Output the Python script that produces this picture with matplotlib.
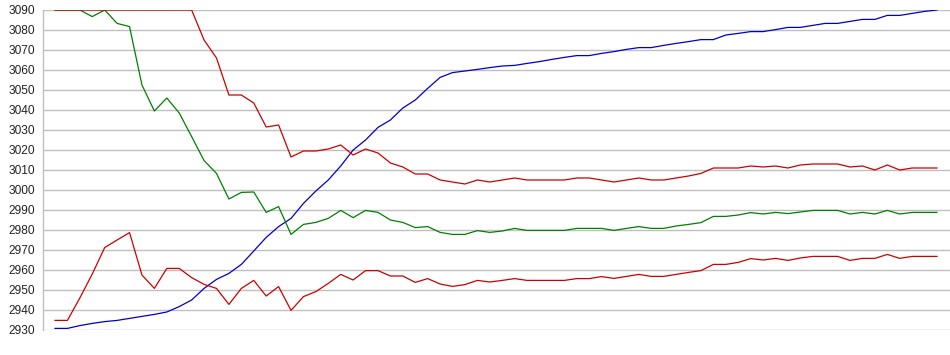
import matplotlib
matplotlib.use("Agg")
import matplotlib.pyplot as plt
import numpy as np

upper_red = [3090, 3090, 3090, 3090, 3090, 3090, 3090, 3090, 3090, 3090,
             3090, 3090, 3075, 3066, 3047.5, 3047.5, 3043.5, 3031.5, 3032.5, 3016.5,
             3019.5, 3019.5, 3020.5, 3022.5, 3017.5, 3020.5, 3018.5, 3013.5, 3011.5, 3008,
             3008, 3005, 3004, 3003, 3005, 3004, 3005, 3006, 3005, 3005,
             3005, 3005, 3006, 3006, 3005, 3004, 3005, 3006, 3005, 3005,
             3006, 3007, 3008.3, 3011, 3011, 3011, 3012, 3011.5, 3012, 3011,
             3012.5, 3013, 3013, 3013, 3011.5, 3012, 3010, 3012.5, 3010, 3011,
             3011, 3011]

middle_green = [3090, 3090, 3090, 3086.7, 3090, 3083.3, 3081.7, 3052.5, 3039.5, 3046,
                3038.5, 3026.7, 3014.7, 3008.3, 2995.5, 2998.8, 2999, 2988.8, 2991.7, 2977.8,
                2982.8, 2983.8, 2985.8, 2989.8, 2986.2, 2989.8, 2988.8, 2985, 2983.8, 2981.2,
                2981.7, 2978.8, 2977.8, 2977.8, 2979.7, 2978.8, 2979.5, 2980.8, 2979.8, 2979.8,
                2979.8, 2979.8, 2980.8, 2980.8, 2980.8, 2979.8, 2980.8, 2981.7, 2980.8, 2980.8,
                2982, 2982.8, 2983.7, 2986.8, 2986.8, 2987.5, 2988.7, 2988, 2988.8, 2988.2,
                2989, 2989.8, 2989.8, 2989.8, 2988, 2988.8, 2988, 2989.8, 2988, 2988.8,
                2988.8, 2988.8]

lower_red = [2934.8, 2934.8, 2946, 2958, 2971.2, 2975, 2978.7, 2957.5, 2950.8, 2960.8,
             2960.8, 2956.2, 2952.8, 2950.8, 2942.8, 2950.8, 2954.8, 2947, 2951.7, 2939.8,
             2946.7, 2949.2, 2953.3, 2957.8, 2955, 2959.7, 2959.7, 2957, 2957, 2953.8,
             2955.7, 2953, 2951.8, 2952.7, 2954.8, 2954, 2954.8, 2955.7, 2954.8, 2954.8,
             2954.8, 2954.8, 2955.7, 2955.7, 2956.7, 2955.8, 2956.8, 2957.8, 2956.8, 2956.8,
             2957.8, 2958.8, 2959.7, 2962.8, 2962.8, 2963.8, 2965.7, 2965, 2965.8, 2964.8,
             2966, 2966.8, 2966.8, 2966.8, 2964.8, 2965.8, 2965.8, 2967.8, 2965.8, 2966.8,
             2966.8, 2966.8]

blue = [2930.8, 2930.8, 2932.2, 2933.3, 2934.2, 2934.8, 2935.8, 2936.8, 2937.8, 2939,
        2941.7, 2945, 2950.8, 2955.3, 2958.3, 2962.8, 2969.5, 2976.3, 2981.7, 2985.8,
        2993.3, 2999.5, 3005, 3012, 3020, 3025, 3031.3, 3035, 3041, 3045,
        3050.8, 3056.3, 3058.7, 3059.5, 3060.3, 3061.2, 3062, 3062.3, 3063.3, 3064.2,
        3065.3, 3066.3, 3067.2, 3067.2, 3068.3, 3069.2, 3070.3, 3071.2, 3071.2, 3072.3,
        3073.3, 3074.2, 3075.2, 3075.2, 3077.5, 3078.3, 3079.2, 3079.2, 3080.2, 3081.3,
        3081.3, 3082.3, 3083.3, 3083.3, 3084.3, 3085.3, 3085.3, 3087.3, 3087.3, 3088.3,
        3089.3, 3090]

y_ticks = list(range(2930, 3091, 10))

plt.rcParams['font.family'] = ['Liberation Sans', 'DejaVu Sans']

fig = plt.figure(figsize=(9.5, 3.55), dpi=100)
W, H = 950, 355
left_px, right_px, top_px, bottom_px = 43, 950, 10, 330
ax = fig.add_axes([left_px / W, 1 - bottom_px / H, (right_px - left_px) / W, (bottom_px - top_px) / H])

x = np.arange(len(blue))
step = (937 - 55) / (len(blue) - 1)
ax.set_xlim(-(55 - left_px) / step, (len(blue) - 1) + (right_px - 937) / step)
ax.set_ylim(2930, 3090)

lw = 0.9
ax.plot(x, blue, color='#0000cc', lw=lw, zorder=3)
ax.plot(x, middle_green, color='#008000', lw=lw, zorder=3)
ax.plot(x, lower_red, color='#cc0000', lw=lw, zorder=3)
ax.plot(x, upper_red, color='#cc0000', lw=lw, zorder=4)

ax.set_yticks(y_ticks)
ax.set_yticklabels([str(v) for v in y_ticks])
ax.set_xticks([])
ax.tick_params(axis='y', length=0, pad=5.5, labelsize=8.6, labelcolor='#222222')
for v in y_ticks:
    ax.axhline(v, color='#c0c0c0', lw=1.0, zorder=1)

for s in ['top', 'right', 'bottom']:
    ax.spines[s].set_visible(False)
ax.spines['left'].set_color('#c0c0c0')
ax.spines['left'].set_linewidth(1.0)

fig.savefig('out.png', dpi=100)
